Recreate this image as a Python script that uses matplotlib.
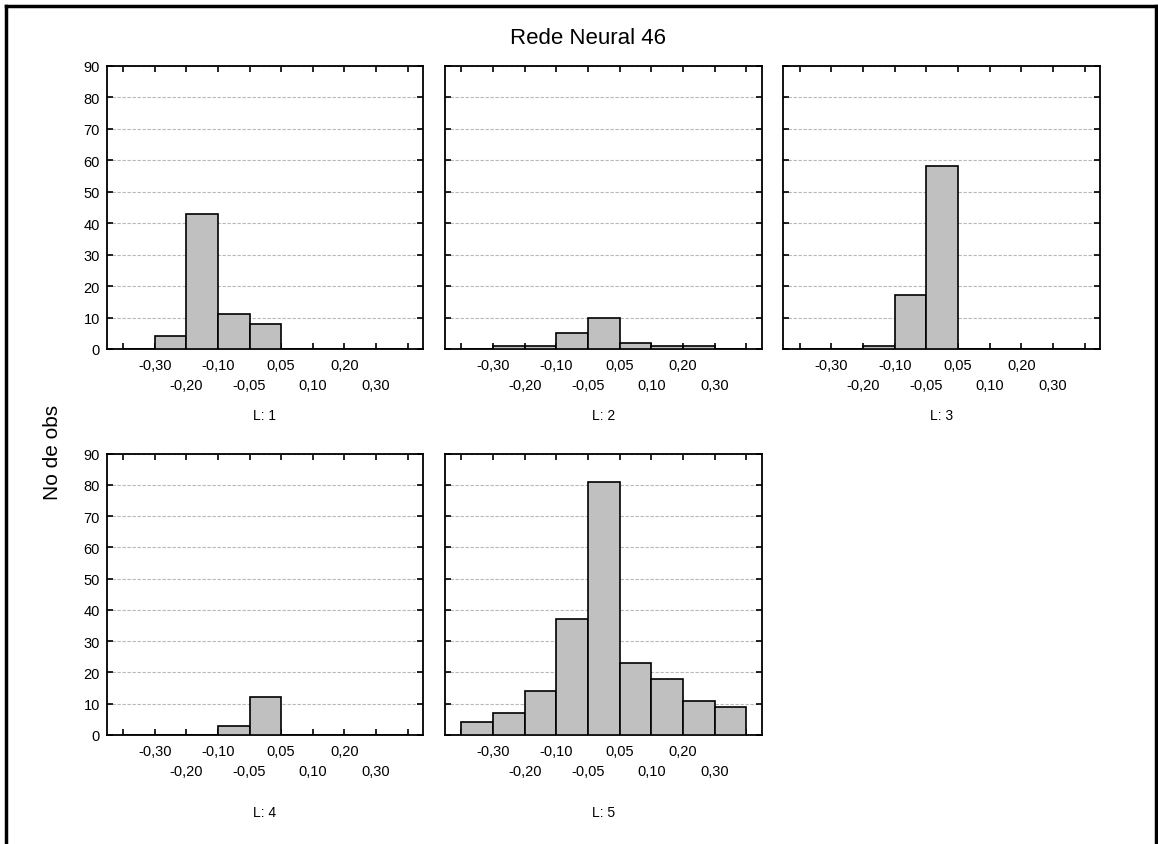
import matplotlib
matplotlib.use("Agg")
import matplotlib.pyplot as plt
from matplotlib.lines import Line2D
import numpy as np

plt.rcParams['font.family'] = ['Liberation Sans', 'DejaVu Sans']

# ---- data ----
title = "Rede Neural 46"
ylabel = "No de obs"
panel_labels = ["L: 1", "L: 2", "L: 3", "L: 4", "L: 5"]
# counts in the 9 bins between the 10 category tick positions
counts_L1 = [0, 4, 43, 11, 8, 0, 0, 0, 0]
counts_L2 = [0, 1, 1, 5, 10, 2, 1, 1, 0]
counts_L3 = [0, 0, 1, 17, 58, 0, 0, 0, 0]
counts_L4 = [0, 0, 0, 3, 12, 0, 0, 0, 0]
counts_L5 = [4, 7, 14, 37, 81, 23, 18, 11, 9]
all_counts = [counts_L1, counts_L2, counts_L3, counts_L4, counts_L5]
# boundary labels (ticks 1..10); upper row / lower row staggered
upper_pos = [2, 4, 6, 8]
upper_labels = ["-0,30", "-0,10", "0,05", "0,20"]
lower_pos = [1, 3, 5, 7, 9, 10]
lower_labels = ["", "-0,20", "-0,05", "0,10", "0,30", ""]
yticks = [0, 10, 20, 30, 40, 50, 60, 70, 80, 90]

W, H = 1158, 845
fig = plt.figure(figsize=(W / 100, H / 100), dpi=100)

def px_axes(l, r, t, b):
    return fig.add_axes([l / W, 1 - b / H, (r - l) / W, (b - t) / H])

cols = [(106.7, 422.7), (445, 761.7), (783.3, 1100)]
rows = [(66.7, 350), (454.7, 736)]
positions = [(0, 0), (0, 1), (0, 2), (1, 0), (1, 1)]
label_y = [416, 813]

for i, (r, c) in enumerate(positions):
    l, rr = cols[c]
    t, b = rows[r]
    ax = px_axes(l, rr, t, b)
    counts = all_counts[i]
    left_edges = np.arange(1, 10)
    ax.bar(left_edges, counts, width=1.0, align='edge', color='#c0c0c0',
           edgecolor='black', linewidth=1.2, zorder=3)
    ax.set_xlim(0.48, 10.48)
    ax.set_ylim(0, 90)
    ax.set_yticks(yticks)
    ax.set_xticks(upper_pos)
    ax.set_xticklabels(upper_labels)
    ax.set_xticks(lower_pos, minor=True)
    ax.set_xticklabels(lower_labels, minor=True)
    ax.tick_params(axis='x', which='major', direction='in', length=4, width=1.2,
                   top=True, pad=6.5, labelsize=10.5)
    ax.tick_params(axis='x', which='minor', direction='in', length=4, width=1.2,
                   top=True, pad=21, labelsize=10.5)
    ax.tick_params(axis='y', which='major', direction='in', length=4, width=1.2,
                   right=True, pad=5, labelsize=10.5)
    if c != 0:
        ax.tick_params(axis='y', labelleft=False)
    for s in ax.spines.values():
        s.set_linewidth(1.3)
    ax.yaxis.grid(True, linestyle=(0, (3, 1.5)), color='#b8b8b8', linewidth=0.8, zorder=0)
    ax.set_axisbelow(True)
    fig.text(((l + rr) / 2) / W, 1 - label_y[r] / H, panel_labels[i],
             ha='center', va='center', fontsize=10)

fig.text(588 / W, 1 - 38 / H, title, ha='center', va='center', fontsize=16)
fig.text(53 / W, 1 - 452 / H, ylabel, ha='center', va='center', fontsize=15,
         rotation=90)

# outer frame
x0, x1, y0 = 6 / W, 1156 / W, 1 - 7 / H
fig.add_artist(Line2D([x0, x1], [y0, y0], color='black', linewidth=2.5,
                      transform=fig.transFigure, clip_on=False))
fig.add_artist(Line2D([x0, x0], [y0, -0.1], color='black', linewidth=2.5,
                      transform=fig.transFigure, clip_on=False))
fig.add_artist(Line2D([x1, x1], [y0, -0.1], color='black', linewidth=2.5,
                      transform=fig.transFigure, clip_on=False))

fig.savefig("out.png", dpi=100)
